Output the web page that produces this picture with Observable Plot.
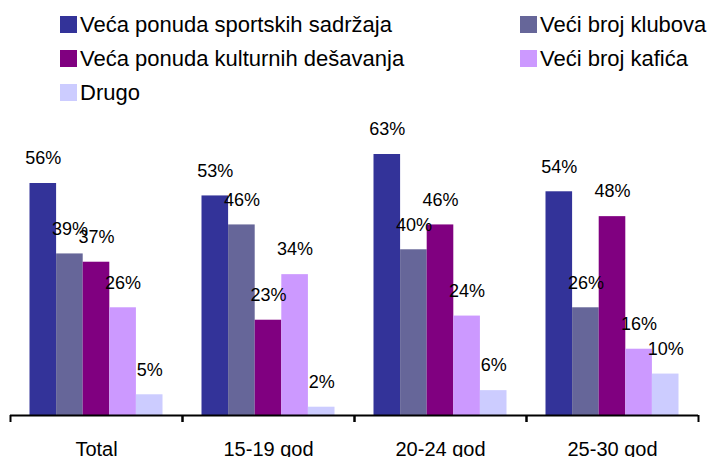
<!DOCTYPE html>
<html>
<head>
<meta charset="utf-8">
<script src="https://cdn.jsdelivr.net/npm/d3@7"></script>
<script src="https://cdn.jsdelivr.net/npm/@observablehq/plot@0.6"></script>
<style>
  html, body { margin: 0; padding: 0; background: #fff; }
  body { width: 708px; height: 457px; overflow: hidden; font-family: "Liberation Sans", Arial, sans-serif; }
  #legend { position: relative; height: 110px; width: 708px; }
  .item { position: absolute; display: flex; align-items: center; height: 17px; font-size: 22px; color: #000; white-space: nowrap; }
  .sw { width: 17px; height: 17px; margin-right: 3px; flex: none; }
  #chart svg { display: block; }
</style>
</head>
<body>
<div id="legend"></div>
<div id="chart"></div>
<script>
const categories = ["Total", "15-19 god", "20-24 god", "25-30 god"];
const series = [
  "Veća ponuda sportskih sadržaja",
  "Veći broj klubova",
  "Veća ponuda kulturnih dešavanja",
  "Veći broj kafića",
  "Drugo"
];
const colors = ["#333399", "#666699", "#800080", "#CC99FF", "#CCCCFF"];

const sport    = [56, 53, 63, 54];
const klubovi  = [39, 46, 40, 26];
const kultura  = [37, 23, 46, 48];
const kafici   = [26, 34, 24, 16];
const drugo    = [5, 2, 6, 10];

const seriesValues = [sport, klubovi, kultura, kafici, drugo];
const rows = [];
categories.forEach((c, i) => {
  series.forEach((s, j) => {
    rows.push({category: c, series: s, value: seriesValues[j][i]});
  });
});

// Legend (two columns, row-major like the original)
const legendPos = [
  {left: 60, top: 16}, {left: 520, top: 16},
  {left: 60, top: 50}, {left: 520, top: 50},
  {left: 60, top: 84}
];
const legend = document.getElementById("legend");
series.forEach((s, j) => {
  const it = document.createElement("div");
  it.className = "item";
  it.style.left = legendPos[j].left + "px";
  it.style.top = legendPos[j].top + "px";
  const sw = document.createElement("span");
  sw.className = "sw";
  sw.style.background = colors[j];
  const tx = document.createElement("span");
  tx.textContent = s;
  it.appendChild(sw);
  it.appendChild(tx);
  legend.appendChild(it);
});

const halfBand = (708 - 20) / categories.length / 2;

const chart = Plot.plot({
  width: 708,
  height: 347,
  marginLeft: 10,
  marginRight: 10,
  marginTop: 15,
  marginBottom: 42,
  style: {fontFamily: "'Liberation Sans', Arial, sans-serif", background: "white", color: "black"},
  fx: {domain: categories, padding: 0, label: null, axis: null},
  x: {domain: series, paddingInner: 0, paddingOuter: 0.733, axis: null, round: false},
  y: {domain: [0, 70], axis: null},
  color: {domain: series, range: colors},
  marks: [
    Plot.barY(rows, {fx: "category", x: "series", y: "value", fill: "series"}),
    Plot.text(rows, {fx: "category", x: "series", y: "value", text: d => d.value + "%", dy: -25, fontSize: 18, fill: "black"}),
    Plot.ruleY([0], {stroke: "black", strokeWidth: 2}),
    Plot.axisFx({anchor: "bottom", tickSize: 0, tickPadding: 26, fontSize: 20, label: null}),
    Plot.axisFx({anchor: "bottom", tickSize: 7, tickFormat: () => "", dx: -halfBand, strokeWidth: 2, label: null}),
    Plot.axisFx({anchor: "bottom", tickSize: 7, tickFormat: () => "", dx: halfBand, strokeWidth: 2, label: null})
  ]
});
document.getElementById("chart").appendChild(chart);
</script>
</body>
</html>
